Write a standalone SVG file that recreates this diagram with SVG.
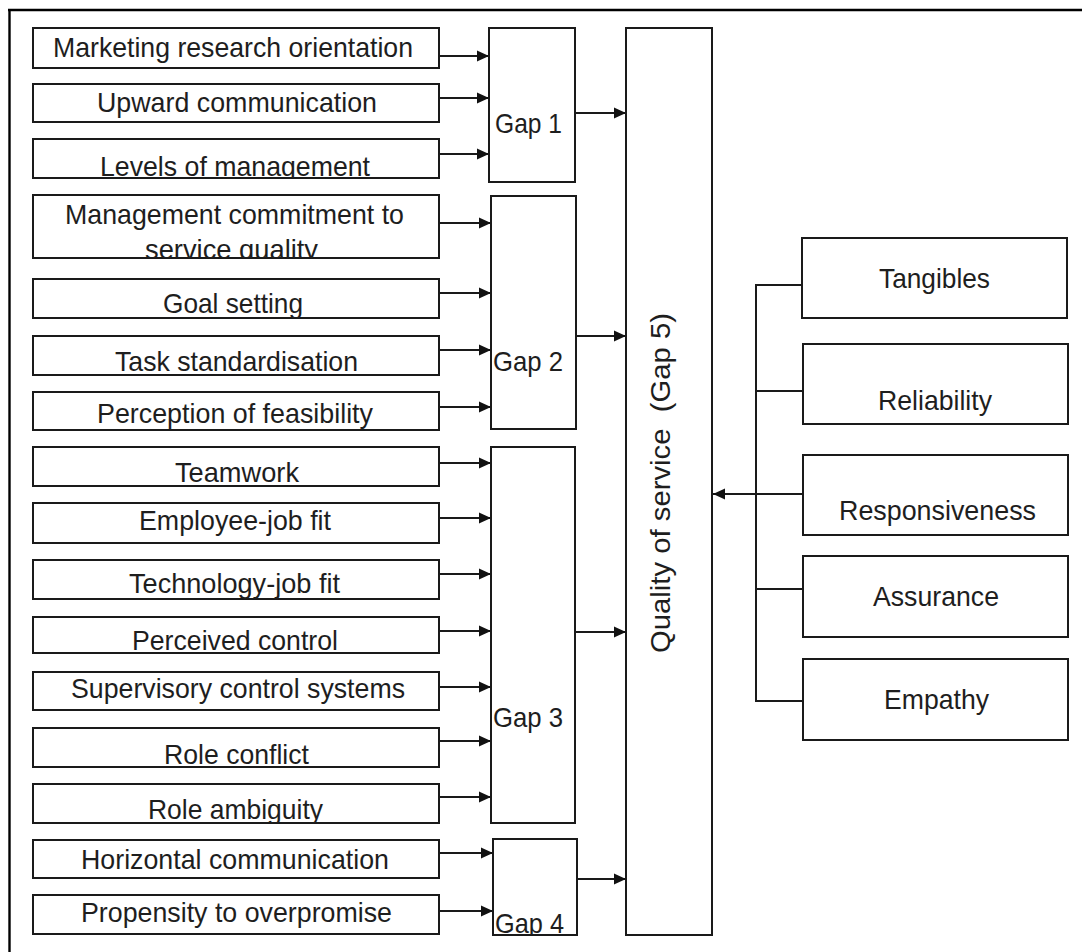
<svg xmlns="http://www.w3.org/2000/svg" width="1082" height="952" viewBox="0 0 1082 952">
<style>
  .box { fill: #ffffff; stroke: #1a1a1a; stroke-width: 2; }
  .t { font-family: "Liberation Sans", Arial, sans-serif; font-size: 28px; fill: #1e1e1e; text-anchor: middle; }
  .ln { stroke: #1a1a1a; stroke-width: 2; fill: none; }
  .ar { stroke: #1a1a1a; stroke-width: 2; fill: none; marker-end: url(#ah); }
</style>
<defs>
  <marker id="ah" markerUnits="userSpaceOnUse" markerWidth="13" markerHeight="12" refX="12" refY="6" orient="auto">
    <path d="M0,0.5 L12,6 L0,11.5 z" fill="#111"/>
  </marker>
  <clipPath id="c1"><rect x="33" y="28" width="406" height="40"/></clipPath>
  <clipPath id="c2"><rect x="33" y="84" width="406" height="38"/></clipPath>
  <clipPath id="c3"><rect x="33" y="139" width="406" height="39"/></clipPath>
  <clipPath id="c4"><rect x="33" y="195" width="406" height="63"/></clipPath>
  <clipPath id="c5"><rect x="33" y="279" width="406" height="39"/></clipPath>
  <clipPath id="c6"><rect x="33" y="336" width="406" height="39"/></clipPath>
  <clipPath id="c7"><rect x="33" y="392" width="406" height="38"/></clipPath>
  <clipPath id="c8"><rect x="33" y="447" width="406" height="39"/></clipPath>
  <clipPath id="c9"><rect x="33" y="503" width="406" height="40"/></clipPath>
  <clipPath id="c10"><rect x="33" y="560" width="406" height="39"/></clipPath>
  <clipPath id="c11"><rect x="33" y="617" width="406" height="36"/></clipPath>
  <clipPath id="c12"><rect x="33" y="672" width="406" height="38"/></clipPath>
  <clipPath id="c13"><rect x="33" y="728" width="406" height="39"/></clipPath>
  <clipPath id="c14"><rect x="33" y="784" width="406" height="39"/></clipPath>
  <clipPath id="c15"><rect x="33" y="840" width="406" height="38"/></clipPath>
  <clipPath id="c16"><rect x="33" y="895" width="406" height="39"/></clipPath>
  <clipPath id="cg4"><rect x="493" y="839" width="84" height="96"/></clipPath>
</defs>
<rect x="0" y="0" width="1082" height="952" fill="#ffffff"/>
<g id="frame">
  <line x1="8" y1="10" x2="1082" y2="10" stroke="#000" stroke-width="2.4"/>
  <line x1="9.5" y1="9" x2="9.5" y2="952" stroke="#000" stroke-width="2.4"/>
</g>
<g id="connectors">
  <line class="ar" x1="439" y1="56" x2="489" y2="56"/>
  <line class="ar" x1="439" y1="98" x2="489" y2="98"/>
  <line class="ar" x1="439" y1="154" x2="489" y2="154"/>
  <line class="ar" x1="439" y1="223" x2="491" y2="223"/>
  <line class="ar" x1="439" y1="293" x2="491" y2="293"/>
  <line class="ar" x1="439" y1="350" x2="491" y2="350"/>
  <line class="ar" x1="439" y1="407" x2="491" y2="407"/>
  <line class="ar" x1="439" y1="463" x2="491" y2="463"/>
  <line class="ar" x1="439" y1="518" x2="491" y2="518"/>
  <line class="ar" x1="439" y1="574" x2="491" y2="574"/>
  <line class="ar" x1="439" y1="631" x2="491" y2="631"/>
  <line class="ar" x1="439" y1="687" x2="491" y2="687"/>
  <line class="ar" x1="439" y1="741" x2="491" y2="741"/>
  <line class="ar" x1="439" y1="797" x2="491" y2="797"/>
  <line class="ar" x1="439" y1="853" x2="493" y2="853"/>
  <line class="ar" x1="439" y1="911" x2="493" y2="911"/>
  <line class="ar" x1="575" y1="113" x2="626" y2="113"/>
  <line class="ar" x1="576" y1="336" x2="626" y2="336"/>
  <line class="ar" x1="575" y1="632" x2="626" y2="632"/>
  <line class="ar" x1="577" y1="879" x2="626" y2="879"/>
  <line class="ln" x1="756" y1="285" x2="756" y2="701"/>
  <line class="ln" x1="755" y1="285" x2="802" y2="285"/>
  <line class="ln" x1="755" y1="391" x2="803" y2="391"/>
  <line class="ln" x1="755" y1="589" x2="803" y2="589"/>
  <line class="ln" x1="755" y1="701" x2="803" y2="701"/>
  <line class="ar" x1="807" y1="494" x2="713" y2="494"/>
</g>
<g id="n1"><rect class="box" x="33" y="28" width="406" height="40"/><text class="t" x="233" y="57" textLength="360" lengthAdjust="spacingAndGlyphs" clip-path="url(#c1)">Marketing research orientation</text></g>
<g id="n2"><rect class="box" x="33" y="84" width="406" height="38"/><text class="t" x="237" y="112" textLength="280" lengthAdjust="spacingAndGlyphs" clip-path="url(#c2)">Upward communication</text></g>
<g id="n3"><rect class="box" x="33" y="139" width="406" height="39"/><text class="t" x="235" y="176" textLength="270" lengthAdjust="spacingAndGlyphs" clip-path="url(#c3)">Levels of management</text></g>
<g id="n4"><rect class="box" x="33" y="195" width="406" height="63"/><g clip-path="url(#c4)"><text class="t" x="234.5" y="224" textLength="339" lengthAdjust="spacingAndGlyphs">Management commitment to</text><text class="t" x="231.5" y="259" textLength="173" lengthAdjust="spacingAndGlyphs">service quality</text></g></g>
<g id="n5"><rect class="box" x="33" y="279" width="406" height="39"/><text class="t" x="233" y="313" textLength="140" lengthAdjust="spacingAndGlyphs" clip-path="url(#c5)">Goal setting</text></g>
<g id="n6"><rect class="box" x="33" y="336" width="406" height="39"/><text class="t" x="236.5" y="371" textLength="243" lengthAdjust="spacingAndGlyphs" clip-path="url(#c6)">Task standardisation</text></g>
<g id="n7"><rect class="box" x="33" y="392" width="406" height="38"/><text class="t" x="235" y="423" textLength="276" lengthAdjust="spacingAndGlyphs" clip-path="url(#c7)">Perception of feasibility</text></g>
<g id="n8"><rect class="box" x="33" y="447" width="406" height="39"/><text class="t" x="237" y="482" textLength="124" lengthAdjust="spacingAndGlyphs" clip-path="url(#c8)">Teamwork</text></g>
<g id="n9"><rect class="box" x="33" y="503" width="406" height="40"/><text class="t" x="235" y="530" textLength="192" lengthAdjust="spacingAndGlyphs" clip-path="url(#c9)">Employee-job fit</text></g>
<g id="n10"><rect class="box" x="33" y="560" width="406" height="39"/><text class="t" x="234.5" y="593" textLength="211" lengthAdjust="spacingAndGlyphs" clip-path="url(#c10)">Technology-job fit</text></g>
<g id="n11"><rect class="box" x="33" y="617" width="406" height="36"/><text class="t" x="235" y="650" textLength="206" lengthAdjust="spacingAndGlyphs" clip-path="url(#c11)">Perceived control</text></g>
<g id="n12"><rect class="box" x="33" y="672" width="406" height="38"/><text class="t" x="238" y="698" textLength="334" lengthAdjust="spacingAndGlyphs" clip-path="url(#c12)">Supervisory control systems</text></g>
<g id="n13"><rect class="box" x="33" y="728" width="406" height="39"/><text class="t" x="236.5" y="764" textLength="145" lengthAdjust="spacingAndGlyphs" clip-path="url(#c13)">Role conflict</text></g>
<g id="n14"><rect class="box" x="33" y="784" width="406" height="39"/><text class="t" x="235.5" y="819" textLength="175" lengthAdjust="spacingAndGlyphs" clip-path="url(#c14)">Role ambiguity</text></g>
<g id="n15"><rect class="box" x="33" y="840" width="406" height="38"/><text class="t" x="235" y="869" textLength="308" lengthAdjust="spacingAndGlyphs" clip-path="url(#c15)">Horizontal communication</text></g>
<g id="n16"><rect class="box" x="33" y="895" width="406" height="39"/><text class="t" x="236.5" y="922" textLength="311" lengthAdjust="spacingAndGlyphs" clip-path="url(#c16)">Propensity to overpromise</text></g>
<g id="gap1"><rect class="box" x="489" y="28" width="86" height="154"/><text class="t" x="528.5" y="133" textLength="67" lengthAdjust="spacingAndGlyphs">Gap 1</text></g>
<g id="gap2"><rect class="box" x="491" y="196" width="85" height="233"/><text class="t" x="528" y="371" textLength="70" lengthAdjust="spacingAndGlyphs">Gap 2</text></g>
<g id="gap3"><rect class="box" x="491" y="447" width="84" height="376"/><text class="t" x="528" y="727" textLength="70" lengthAdjust="spacingAndGlyphs">Gap 3</text></g>
<g id="gap4"><rect class="box" x="493" y="839" width="84" height="96"/><text class="t" x="529.5" y="933" textLength="69" lengthAdjust="spacingAndGlyphs" clip-path="url(#cg4)">Gap 4</text></g>
<g id="quality"><rect class="box" x="626" y="28" width="86" height="907"/><text class="t" xml:space="preserve" transform="translate(670,483) rotate(-90)" x="0" y="0" textLength="340" lengthAdjust="spacingAndGlyphs">Quality of service  (Gap 5)</text></g>
<g id="tangibles"><rect class="box" x="802" y="238" width="265" height="80"/><text class="t" x="934.5" y="288" textLength="111" lengthAdjust="spacingAndGlyphs">Tangibles</text></g>
<g id="reliability"><rect class="box" x="803" y="344" width="265" height="80"/><text class="t" x="935" y="410" textLength="114" lengthAdjust="spacingAndGlyphs">Reliability</text></g>
<g id="responsiveness"><rect class="box" x="803" y="455" width="265" height="80"/><text class="t" x="937.5" y="520" textLength="197" lengthAdjust="spacingAndGlyphs">Responsiveness</text></g>
<g id="assurance"><rect class="box" x="803" y="556" width="265" height="81"/><text class="t" x="936" y="606" textLength="126" lengthAdjust="spacingAndGlyphs">Assurance</text></g>
<g id="empathy"><rect class="box" x="803" y="659" width="265" height="81"/><text class="t" x="936.5" y="709" textLength="105" lengthAdjust="spacingAndGlyphs">Empathy</text></g>
</svg>
